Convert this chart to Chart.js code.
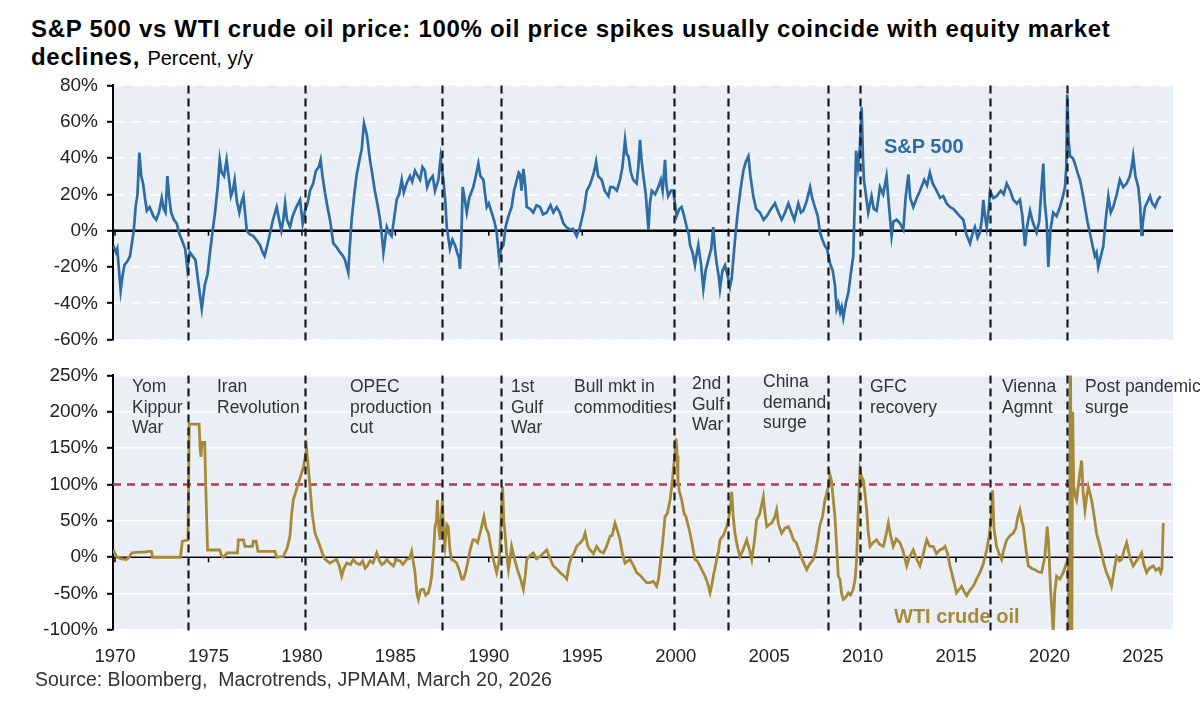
<!DOCTYPE html>
<html>
<head>
<meta charset="utf-8">
<title>S&amp;P 500 vs WTI crude oil price</title>
<script src="https://cdn.jsdelivr.net/npm/chart.js@4.4.1/dist/chart.umd.min.js"></script>
<style>
  html, body { margin: 0; padding: 0; background: #fff; }
  body { position: relative; width: 1200px; height: 712px; overflow: hidden;
         font-family: "Liberation Sans", Arial, sans-serif; color: #000; }
  .abs { position: absolute; white-space: nowrap; }
  canvas { position: absolute; left: 0; }
  #spx { top: 65px; }
  #wti { top: 355px; }
  .t1 { left: 31px; top: 17px; font-size: 24px; font-weight: bold; line-height: 24px; letter-spacing: 0.7px; }
  .t2 { left: 31px; top: 45px; font-size: 24px; font-weight: bold; line-height: 24px; letter-spacing: 0.7px; }
  .t2 span { font-weight: normal; font-size: 20px; letter-spacing: 0; }
  .src { left: 35px; top: 669px; font-size: 19.5px; line-height: 20px; color: #333; }
  .note { font-size: 17.5px; line-height: 20.5px; color: #333; }
  .lbl { font-size: 20px; line-height: 20px; font-weight: bold; }
</style>
</head>
<body>
<div class="abs t1">S&amp;P 500 vs WTI crude oil price: 100% oil price spikes usually coincide with equity market</div>
<div class="abs t2">declines, <span>Percent, y/y</span></div>

<canvas id="spx" width="1200" height="295"></canvas>
<canvas id="wti" width="1200" height="335"></canvas>

<div class="abs lbl" style="left:884px; top:136px; color:#2E6CA5;">S&amp;P 500</div>
<div class="abs lbl" style="left:894px; top:606px; color:#A68A3A;">WTI crude oil</div>

<div class="abs note" style="left:132px; top:376px;">Yom<br>Kippur<br>War</div>
<div class="abs note" style="left:217px; top:376px;">Iran<br>Revolution</div>
<div class="abs note" style="left:350px; top:376px;">OPEC<br>production<br>cut</div>
<div class="abs note" style="left:511px; top:376px;">1st<br>Gulf<br>War</div>
<div class="abs note" style="left:574px; top:376px;">Bull mkt in<br>commodities</div>
<div class="abs note" style="left:692px; top:373px;">2nd<br>Gulf<br>War</div>
<div class="abs note" style="left:763px; top:371px;">China<br>demand<br>surge</div>
<div class="abs note" style="left:870px; top:376px;">GFC<br>recovery</div>
<div class="abs note" style="left:1002px; top:376px;">Vienna<br>Agmnt</div>
<div class="abs note" style="left:1085px; top:376px;">Post pandemic<br>surge</div>

<div class="abs src">Source: Bloomberg,&nbsp; Macrotrends, JPMAM, March 20, 2026</div>

<script>
// ---- data (year as decimal, value in % y/y) ----
const spxYears = [1969.9,1970.05,1970.12,1970.3,1970.4,1970.5,1970.65,1970.8,1971.0,1971.1,1971.2,1971.3,1971.4,1971.5,1971.6,1971.7,1971.85,
  1972.05,1972.2,1972.35,1972.5,1972.6,1972.7,1972.8,1972.9,1973.0,1973.15,1973.3,1973.45,1973.57,1973.75,1973.87,1974.0,1974.15,1974.3,1974.45,
  1974.64,1974.8,1974.95,1975.08,1975.2,1975.35,1975.5,1975.6,1975.7,1975.83,1975.97,1976.1,1976.2,1976.3,1976.4,1976.52,1976.65,1976.75,1976.87,
  1977.05,1977.2,1977.4,1977.55,1977.76,1977.9,1978.0,1978.15,1978.3,1978.45,1978.65,1978.78,1978.9,1979.0,1979.1,1979.2,1979.36,1979.5,1979.7,
  1979.9,1980.04,1980.17,1980.3,1980.43,1980.6,1980.75,1980.9,1981.0,1981.1,1981.23,1981.35,1981.5,1981.68,1981.85,1982.04,1982.2,1982.3,1982.48,
  1982.55,1982.66,1982.8,1982.93,1983.1,1983.2,1983.32,1983.47,1983.64,1983.75,1983.9,1984.05,1984.18,1984.27,1984.36,1984.45,1984.54,1984.65,
  1984.8,1984.95,1985.07,1985.2,1985.34,1985.45,1985.6,1985.78,1985.9,1986.05,1986.2,1986.32,1986.45,1986.58,1986.7,1986.85,1987.0,1987.12,1987.3,
  1987.42,1987.5,1987.57,1987.68,1987.75,1987.85,1987.92,1988.05,1988.19,1988.3,1988.4,1988.46,1988.52,1988.6,1988.7,1988.82,1988.95,1989.17,
  1989.3,1989.44,1989.55,1989.71,1989.8,1989.89,1990.0,1990.15,1990.3,1990.42,1990.56,1990.65,1990.78,1990.9,1991.05,1991.22,1991.35,1991.5,
  1991.6,1991.67,1991.75,1991.85,1991.95,1992.03,1992.2,1992.38,1992.55,1992.74,1992.9,1993.1,1993.3,1993.45,1993.63,1993.8,1993.99,1994.15,
  1994.35,1994.5,1994.7,1994.85,1994.97,1995.1,1995.24,1995.4,1995.5,1995.62,1995.74,1995.85,1996.04,1996.2,1996.4,1996.5,1996.66,1996.85,
  1997.02,1997.15,1997.29,1997.38,1997.47,1997.6,1997.73,1997.91,1998.0,1998.09,1998.18,1998.27,1998.4,1998.54,1998.62,1998.72,1998.9,1999.07,
  1999.2,1999.3,1999.43,1999.5,1999.6,1999.75,1999.87,2000.05,2000.2,2000.32,2000.45,2000.59,2000.7,2000.77,2000.9,2001.03,2001.12,2001.21,
  2001.35,2001.48,2001.6,2001.75,2001.9,2002.01,2002.1,2002.19,2002.3,2002.37,2002.5,2002.64,2002.78,2002.9,2003.0,2003.08,2003.2,2003.35,
  2003.5,2003.62,2003.75,2003.89,2004.0,2004.15,2004.3,2004.51,2004.7,2004.87,2005.1,2005.31,2005.5,2005.67,2005.85,2006.03,2006.2,2006.35,
  2006.56,2006.7,2006.83,2007.0,2007.19,2007.3,2007.45,2007.6,2007.72,2007.85,2007.99,2008.1,2008.26,2008.4,2008.52,2008.61,2008.7,2008.8,
  2008.88,2008.97,2009.1,2009.24,2009.35,2009.5,2009.58,2009.65,2009.75,2009.85,2009.95,2010.02,2010.07,2010.2,2010.3,2010.4,2010.48,2010.6,
  2010.75,2010.85,2010.93,2011.1,2011.28,2011.4,2011.55,2011.65,2011.82,2012.0,2012.18,2012.3,2012.45,2012.55,2012.71,2012.9,2013.07,2013.3,
  2013.45,2013.6,2013.75,2013.96,2014.15,2014.32,2014.5,2014.68,2014.85,2015.03,2015.2,2015.39,2015.55,2015.75,2015.9,2016.01,2016.15,2016.28,
  2016.38,2016.46,2016.55,2016.64,2016.75,2016.82,2017.0,2017.17,2017.4,2017.55,2017.71,2017.9,2018.06,2018.25,2018.42,2018.55,2018.69,2018.8,
  2018.96,2019.1,2019.31,2019.45,2019.55,2019.67,2019.75,2019.85,2019.94,2020.05,2020.2,2020.38,2020.56,2020.7,2020.83,2020.9,2020.95,2021.02,
  2021.1,2021.25,2021.36,2021.5,2021.63,2021.75,2021.9,2022.03,2022.16,2022.3,2022.43,2022.52,2022.61,2022.75,2022.88,2023.0,2023.15,2023.28,
  2023.41,2023.6,2023.77,2023.95,2024.13,2024.3,2024.4,2024.48,2024.6,2024.75,2024.85,2024.93,2025.0,2025.11,2025.25,2025.38,2025.5,2025.65,
  2025.8,2025.95];
const spxValues = [-8,-12,-10,-33,-25,-19,-17,-14,0,13,20,43,30,26,18,11,13,
  8,6,10,18,12,10,30,18,10,6,4,-2,-5,-10,-21,-12,-14,-16,-28,
  -43,-30,-24,-12,-2,10,25,39,32,30,39,28,19,22,28,16,10,15,19,
  0,-2,-3,-5,-8,-12,-14,-8,-1,6,13,6,0,6,15,6,2,8,13,
  17,4,11,15,22,26,33,35,39,30,21,14,6,-7,-9,-12,-14,-16,-23,
  -10,6,20,31,40,45,59,53,39,32,22,14,6,-2,-12,-5,2,-1,
  -3,8,17,20,28,21,26,30,27,33,30,28,35,33,24,28,30,22,28,
  40,33,28,15,2,-5,-10,-5,-8,-12,-15,-21,-8,24,18,10,18,24,
  30,37,30,28,20,13,15,10,5,-1,-16,-10,-8,2,8,13,22,28,
  32,31,22,34,25,13,12,10,14,13,9,10,14,10,13,10,4,2,
  0.5,1,-3,1,6,12,22,25,28,32,38,30,28,22,19,24,24,22,
  28,35,50,42,41,32,28,26,35,50,38,30,20,0.5,15,22,20,24,
  28,22,39,25,19,22,22,8,12,13,8,2,-2,-8,-12,-19,-13,-8,
  -18,-32,-22,-16,-10,2,-10,-18,-25,-32,-22,-19,-25,-31,-26,-16,-2,13,
  25,33,38,41,30,19,12,10,6,8,12,15,10,6,10,15,10,6,
  15,10,11,16,24,18,13,8,-1,-5,-8.5,-10,-18,-22,-30,-43,-40,-45,
  -42,-48,-40,-34,-25,-14,15,44,35,45,68,40,28,18,10,15,19,12,
  11,18,24,20,30,15,-3,5,6,4,0.5,18,31,18,13,18,22,28,
  25,32,26,22,18,19,15,13,12,10,8,6,-2,-7,-1,2,-4,-1,
  6,17,8,2,12,22,18,19,22,20,26,22,17,15,17,8,-8.5,2,
  11,5,-1,5,20,37,15,5,-20,0,10,8,13,18,24,35,75,50,
  41,40,37,32,28,22,13,5,-1,-8,-14,-12,-20,-14,-8.5,5,19,10,
  13,20,28,24,26,30,35,41,30,24,14,-3,5,13,16,19,15,13,
  17,19];

const wtiYears = [1969.9,1970.0,1970.1,1970.3,1970.6,1970.75,1970.9,1971.3,1971.6,1971.8,1971.95,1972.0,1973.5,1973.55,1973.6,1973.9,
  1973.97,1974.5,1974.55,1974.6,1974.66,1974.8,1974.85,1974.95,1975.6,1975.7,1975.8,1976.0,1976.55,1976.6,1976.87,1976.95,1977.35,1977.4,
  1977.55,1977.65,1978.55,1978.65,1979.0,1979.2,1979.36,1979.45,1979.54,1979.8,1980.08,1980.25,1980.35,1980.43,1980.55,1980.7,1980.97,
  1981.1,1981.24,1981.5,1981.7,1981.86,1982.0,1982.13,1982.25,1982.4,1982.6,1982.75,1982.9,1983.1,1983.25,1983.38,1983.5,1983.64,1983.8,
  1984.0,1984.15,1984.27,1984.4,1984.54,1984.7,1984.89,1985.05,1985.25,1985.4,1985.6,1985.75,1985.87,1985.95,1986.05,1986.15,1986.23,
  1986.35,1986.5,1986.62,1986.76,1986.85,1986.94,1987.05,1987.12,1987.2,1987.25,1987.32,1987.39,1987.47,1987.52,1987.58,1987.65,1987.75,
  1987.83,1987.92,1988.0,1988.15,1988.28,1988.45,1988.55,1988.64,1988.75,1988.85,1989.0,1989.15,1989.26,1989.4,1989.55,1989.74,1989.85,
  1989.98,1990.1,1990.24,1990.42,1990.55,1990.6,1990.7,1990.74,1990.8,1990.87,1990.95,1991.05,1991.15,1991.22,1991.4,1991.58,1991.7,
  1991.85,1991.95,1992.03,1992.2,1992.38,1992.55,1992.74,1992.9,1993.1,1993.25,1993.45,1993.6,1993.81,1994.0,1994.17,1994.3,1994.43,
  1994.55,1994.7,1994.9,1995.05,1995.15,1995.3,1995.42,1995.6,1995.77,1995.95,1996.13,1996.3,1996.49,1996.6,1996.75,1996.9,1997.02,
  1997.15,1997.29,1997.45,1997.56,1997.75,1997.91,1998.1,1998.27,1998.45,1998.63,1998.8,1998.98,1999.08,1999.16,1999.3,1999.43,1999.55,
  1999.7,1999.8,1999.87,1999.95,2000.02,2000.08,2000.12,2000.2,2000.32,2000.45,2000.55,2000.65,2000.77,2000.9,2001.03,2001.15,2001.3,
  2001.45,2001.57,2001.7,2001.84,2001.92,2002.01,2002.1,2002.19,2002.3,2002.37,2002.55,2002.73,2002.85,2002.95,2003.0,2003.08,2003.17,
  2003.3,2003.44,2003.6,2003.8,2003.95,2004.07,2004.2,2004.33,2004.5,2004.69,2004.78,2004.87,2005.0,2005.14,2005.3,2005.4,2005.5,
  2005.67,2005.85,2006.03,2006.15,2006.3,2006.45,2006.65,2006.8,2007.01,2007.15,2007.37,2007.5,2007.6,2007.72,2007.85,2007.99,2008.08,
  2008.2,2008.26,2008.34,2008.43,2008.52,2008.6,2008.7,2008.79,2008.88,2008.97,2009.1,2009.24,2009.35,2009.5,2009.6,2009.68,2009.75,
  2009.86,2009.95,2010.04,2010.12,2010.22,2010.3,2010.4,2010.55,2010.75,2010.9,2011.11,2011.25,2011.38,2011.5,2011.64,2011.8,2012.0,
  2012.15,2012.36,2012.5,2012.71,2012.85,2013.07,2013.25,2013.43,2013.6,2013.78,2013.95,2014.14,2014.3,2014.41,2014.55,2014.68,2014.85,
  2015.03,2015.15,2015.3,2015.45,2015.57,2015.75,2015.92,2016.1,2016.28,2016.45,2016.64,2016.78,2016.9,2016.96,2017.03,2017.17,2017.3,
  2017.44,2017.55,2017.71,2017.9,2018.06,2018.2,2018.3,2018.42,2018.52,2018.6,2018.75,2018.87,2019.05,2019.22,2019.4,2019.58,2019.75,
  2019.88,2019.95,2020.05,2020.15,2020.2,2020.28,2020.38,2020.55,2020.74,2020.88,2021.0,2021.06,2021.12,2021.19,2021.24,2021.3,2021.38,
  2021.45,2021.55,2021.65,2021.72,2021.8,2021.9,2022.0,2022.08,2022.17,2022.25,2022.4,2022.52,2022.65,2022.79,2022.92,2023.05,2023.2,
  2023.32,2023.45,2023.59,2023.75,2023.86,2024.0,2024.13,2024.3,2024.48,2024.65,2024.8,2024.93,2025.05,2025.2,2025.35,2025.56,2025.7,
  2025.85,2025.95,2026.02,2026.09];
const wtiValues = [10,5,0,-2,-3,0,6,7,7,8,8,0,0,12,22,24,
  183,183,150,138,158,158,100,10,10,2,0,6,6,24,24,15,15,22,
  22,8,8,0,1,12,29,60,79,101,124,149,120,97,60,33,15,
  5,-3,-8,-5,-3,-12,-26,-15,-8,-10,-3,-8,-10,-5,-15,-12,-5,-8,
  6,-5,-10,-8,-3,-8,-12,-3,-5,-10,-3,-2,8,-5,-21,-50,-58,
  -45,-44,-52,-49,-40,-26,10,42,50,79,40,24,60,79,30,15,45,
  42,10,-3,-5,-8,-20,-30,-30,-21,-10,10,24,24,20,35,56,40,
  33,15,-3,-21,-5,15,80,97,50,33,5,-17,0,15,-5,-21,-30,
  -44,-25,-3,2,6,-2,1,5,10,0,-12,-15,-21,-25,-30,-10,1,
  5,15,20,25,33,15,10,5,15,8,6,15,29,30,47,35,24,
  5,-8,-5,-3,-12,-21,-25,-30,-35,-35,-33,-40,-30,-12,20,56,60,
  79,100,120,140,163,140,106,90,79,60,56,45,33,15,-3,-5,-12,
  -20,-26,-35,-49,-40,-26,-15,-3,10,24,30,42,55,75,90,55,33,
  15,1,10,24,10,-3,20,51,60,83,60,42,45,47,55,65,45,
  33,40,42,35,24,20,6,-5,-17,-10,-3,10,25,45,55,79,88,
  100,113,105,80,56,20,-26,-30,-50,-58,-55,-49,-52,-44,-30,-3,50,
  120,110,106,90,65,35,15,20,24,18,15,30,47,30,15,25,20,
  10,-12,0,10,0,-12,5,24,15,15,5,10,12,15,5,-12,-30,
  -49,-45,-40,-48,-53,-45,-40,-30,-21,-10,10,30,60,92,40,15,5,
  -3,10,24,30,33,40,55,65,50,42,10,-12,-15,-17,-20,-21,0,
  42,20,-40,-80,-105,-50,-26,-30,-21,-10,-3,-160,320,-160,200,97,85,
  79,100,120,133,90,65,85,97,88,79,55,33,20,6,-10,-21,-30,
  -40,-20,1,-5,-3,10,20,0,-12,-5,0,6,-10,-21,-15,-12,-18,
  -15,-21,-15,47];

const eventYears = [1973.88, 1980.14, 1987.47, 1990.63, 1999.91, 2002.82, 2008.17, 2009.86, 2016.82, 2020.96];
const xTickYears = [1970, 1975, 1980, 1985, 1990, 1995, 2000, 2005, 2010, 2015, 2020, 2025];
const spxTicks = [-60, -40, -20, 0, 20, 40, 60, 80];
const wtiTicks = [-100, -50, 0, 50, 100, 150, 200, 250];
const oilSpikeLevel = 100;

const X_MIN = 1969.89;
const X_MAX = 2026.61;
const FONT = 'Liberation Sans';
const PANEL_BG = '#E9EFF4';
const BLUE = '#2E6CA5';
const GOLD = '#A68A3A';
const RED = '#C0344D';

function panelPlugin(opts) {
  return {
    id: 'panel' + opts.name,
    beforeDraw(chart) {
      const { ctx, chartArea: a } = chart;
      ctx.save();
      ctx.fillStyle = PANEL_BG;
      ctx.fillRect(a.left, a.top, a.right - a.left, a.bottom - a.top);
      ctx.restore();
    },
    beforeDatasetsDraw(chart) {
      const { ctx, chartArea: a, scales: { x, y } } = chart;
      ctx.save();
      if (opts.threshold != null) {
        const yt = y.getPixelForValue(opts.threshold);
        ctx.strokeStyle = RED;
        ctx.lineWidth = 2.5;
        ctx.setLineDash([8, 6]);
        ctx.beginPath();
        ctx.moveTo(a.left, yt);
        ctx.lineTo(a.right, yt);
        ctx.stroke();
        ctx.setLineDash([]);
      }
      const y0 = y.getPixelForValue(0);
      ctx.strokeStyle = '#000';
      ctx.lineWidth = opts.zeroWidth;
      ctx.beginPath();
      ctx.moveTo(a.left, y0);
      ctx.lineTo(a.right, y0);
      ctx.stroke();
      ctx.lineWidth = 1.5;
      xTickYears.forEach(v => {
        const px = x.getPixelForValue(v);
        ctx.beginPath();
        ctx.moveTo(px, y0);
        ctx.lineTo(px, y0 + 5);
        ctx.stroke();
      });
      ctx.restore();
    },
    afterDatasetsDraw(chart) {
      const { ctx, chartArea: a, scales: { x } } = chart;
      ctx.save();
      ctx.strokeStyle = '#1a1a1a';
      ctx.lineWidth = 2.2;
      ctx.setLineDash([8, 5]);
      eventYears.forEach(v => {
        const px = Math.round(x.getPixelForValue(v)) + 0.5;
        ctx.beginPath();
        ctx.moveTo(px, a.top);
        ctx.lineTo(px, a.bottom + 4);
        ctx.stroke();
      });
      ctx.restore();
    }
  };
}

function yScale(min, max, ticks, dashed) {
  return {
    min: min,
    max: max,
    afterBuildTicks: s => { s.ticks = ticks.map(v => ({ value: v })); },
    afterFit: s => { s.width = 113; },
    ticks: {
      callback: v => v + '%',
      font: { family: FONT, size: 19 },
      color: '#222',
      padding: 9
    },
    grid: { color: '#ffffff', lineWidth: 1.6, tickColor: '#000', tickLength: 6, tickWidth: 2 },
    border: { display: true, color: '#000', width: 2, dash: dashed ? [10, 8] : [] }
  };
}

new Chart(document.getElementById('spx'), {
  type: 'line',
  data: {
    datasets: [{
      label: 'S&P 500',
      data: spxYears.map((x, i) => ({ x: x, y: spxValues[i] })),
      borderColor: BLUE,
      borderWidth: 2.7,
      pointRadius: 0,
      tension: 0
    }]
  },
  options: {
    responsive: false,
    animation: false,
    layout: { padding: { top: 20, bottom: 20, left: 0, right: 27 } },
    plugins: { legend: { display: false }, tooltip: { enabled: false } },
    scales: {
      x: { type: 'linear', display: false, min: X_MIN, max: X_MAX },
      y: yScale(-60, 80, spxTicks, true)
    }
  },
  plugins: [panelPlugin({ name: 'Spx', zeroWidth: 2.5, threshold: null })]
});

new Chart(document.getElementById('wti'), {
  type: 'line',
  data: {
    datasets: [{
      label: 'WTI crude oil',
      data: wtiYears.map((x, i) => ({ x: x, y: wtiValues[i] })),
      borderColor: GOLD,
      borderWidth: 2.8,
      pointRadius: 0,
      tension: 0
    }]
  },
  options: {
    responsive: false,
    animation: false,
    layout: { padding: { top: 20, bottom: 0, left: 0, right: 27 } },
    plugins: { legend: { display: false }, tooltip: { enabled: false } },
    scales: {
      x: {
        type: 'linear',
        min: X_MIN,
        max: X_MAX,
        afterBuildTicks: s => { s.ticks = xTickYears.map(v => ({ value: v })); },
        afterFit: s => { s.height = 60; },
        ticks: {
          callback: v => String(v),
          font: { family: FONT, size: 18.5 },
          color: '#222',
          padding: 16,
          maxRotation: 0,
          autoSkip: false
        },
        grid: { display: false, drawTicks: false },
        border: { display: false }
      },
      y: yScale(-100, 250, wtiTicks, false)
    }
  },
  plugins: [panelPlugin({ name: 'Wti', zeroWidth: 1.5, threshold: oilSpikeLevel })]
});
</script>
</body>
</html>
